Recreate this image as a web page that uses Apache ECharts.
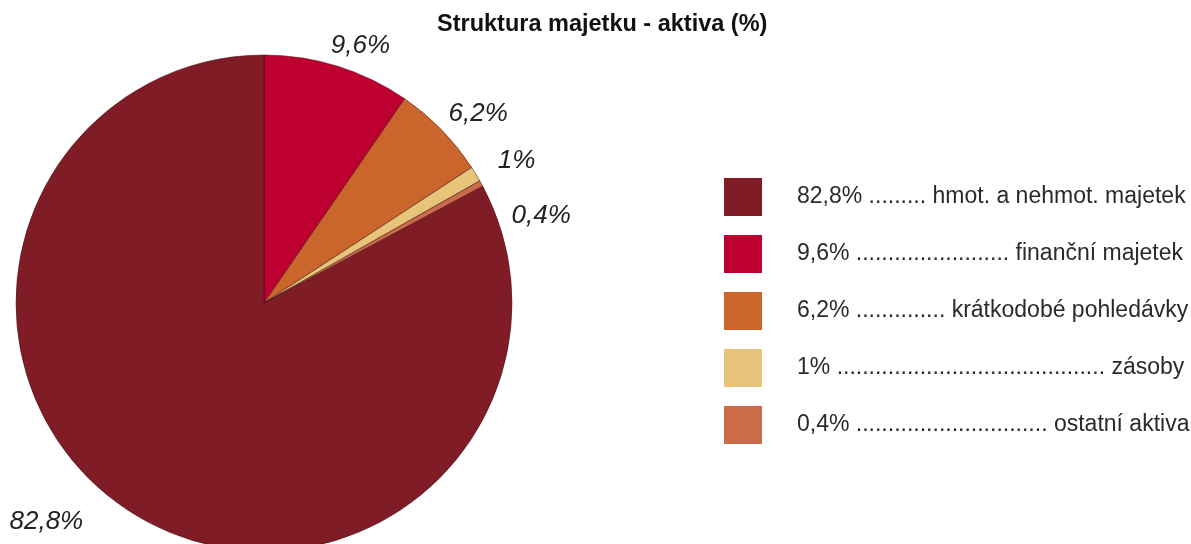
<!DOCTYPE html>
<html><head><meta charset="utf-8">
<script src="https://cdn.jsdelivr.net/npm/echarts@6/dist/echarts.min.js"></script>
<style>html,body{margin:0;padding:0;background:#fff}#c{width:1191px;height:544px}</style>
</head><body><div id="c"></div>
<script>
// Data
var categories = ['finanční majetek', 'krátkodobé pohledávky', 'zásoby', 'ostatní aktiva', 'hmot. a nehmot. majetek'];
var values = [9.6, 6.2, 1, 0.4, 82.8];
var legendOrder = ['hmot. a nehmot. majetek', 'finanční majetek', 'krátkodobé pohledávky', 'zásoby', 'ostatní aktiva'];
var legendDots = {'hmot. a nehmot. majetek': 9, 'finanční majetek': 24, 'krátkodobé pohledávky': 14, 'zásoby': 42, 'ostatní aktiva': 30};

// Styles
var colors = {'finanční majetek': '#bd002f', 'krátkodobé pohledávky': '#ca652b', 'zásoby': '#e8c37a', 'ostatní aktiva': '#cb6b48', 'hmot. a nehmot. majetek': '#801c25'};
var labelNudge = [[-16, -7], [-8, -6], [5, -6], [13, 39], [-41, -6]];

function fmt(v) { return String(v).replace('.', ','); }

var chart = echarts.init(document.getElementById('c'), null, {renderer: 'canvas'});
var data = categories.map(function (c, i) {
  return {name: c, value: values[i], itemStyle: {color: colors[c]}};
});
var option = {
  animation: false,
  title: {
    text: 'Struktura majetku - aktiva (%)',
    left: 437, top: 13, padding: 0,
    textStyle: {fontFamily: 'Liberation Sans', fontWeight: 'bold', fontSize: 23.5, color: '#111'}
  },
  legend: {
    orient: 'vertical', left: 724, top: 178, padding: 0,
    itemWidth: 38, itemHeight: 38, itemGap: 19,
    icon: 'rect',
    itemStyle: {borderWidth: 0},
    data: legendOrder,
    formatter: function (name) {
      var v = values[categories.indexOf(name)];
      return fmt(v) + '% ' + new Array(legendDots[name] + 1).join('.') + ' ' + name;
    },
    textStyle: {fontFamily: 'Liberation Sans', fontSize: 23, color: '#2a2a2a', padding: [0, 0, 0, 30]}
  },
  series: [{
    type: 'pie',
    center: [264, 303],
    radius: 248,
    startAngle: 90,
    clockwise: true,
    avoidLabelOverlap: false,
    data: data,
    itemStyle: {borderColor: 'rgba(60,10,15,0.5)', borderWidth: 1},
    label: {
      show: true, position: 'outside',
      formatter: function (p) { return fmt(p.value) + '%'; },
      fontFamily: 'Liberation Sans', fontStyle: 'italic', fontSize: 26, color: '#222'
    },
    labelLine: {show: false, length: 14, length2: 0},
    labelLayout: function (p) {
      var o = labelNudge[p.dataIndex];
      return {dx: o[0], dy: o[1], hideOverlap: false};
    },
    emphasis: {disabled: true}
  }]
};
chart.setOption(option);
</script></body></html>
